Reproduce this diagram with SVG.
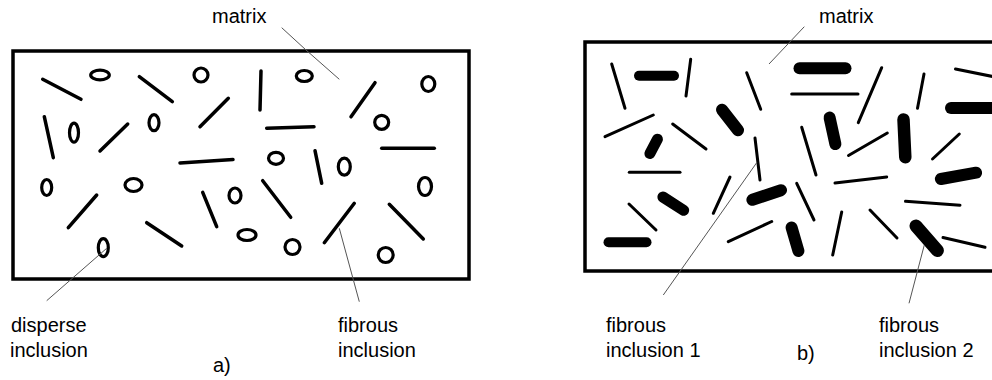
<svg xmlns="http://www.w3.org/2000/svg" width="992" height="380" viewBox="0 0 992 380">
<style>
.frame{fill:none;stroke:#000;stroke-width:3.5}
.f{fill:none;stroke:#000;stroke-width:3.5;stroke-linecap:round}
.d{fill:none;stroke:#000;stroke-width:3.2}
.t{fill:none;stroke:#000;stroke-width:3;stroke-linecap:round}
.k{fill:none;stroke:#000;stroke-linecap:round}
.lead{fill:none;stroke:#555;stroke-width:1}
text{font-family:"Liberation Sans",Arial,sans-serif;font-size:20px;fill:#000}
</style>
<rect width="992" height="380" fill="#fff"/>
<g id="panel-a">
<rect class="frame" x="13" y="51" width="456" height="228"/>
<g id="fibers-a">
<line class="f" x1="42.7" y1="79.3" x2="81" y2="99.3"/>
<line class="f" x1="139.3" y1="76.7" x2="172.3" y2="101.7"/>
<line class="f" x1="228.3" y1="98.3" x2="200" y2="126.7"/>
<line class="f" x1="44.3" y1="116.7" x2="53.3" y2="157.7"/>
<line class="f" x1="127.7" y1="124" x2="100" y2="151"/>
<line class="f" x1="180" y1="163" x2="233" y2="159.5"/>
<line class="f" x1="261" y1="71" x2="260" y2="110"/>
<line class="f" x1="375" y1="82.7" x2="351" y2="116.7"/>
<line class="f" x1="266.7" y1="128.3" x2="314" y2="126.7"/>
<line class="f" x1="381.7" y1="148.3" x2="434.3" y2="148.3"/>
<line class="f" x1="315" y1="150.7" x2="321.7" y2="183.3"/>
<line class="f" x1="96.7" y1="195" x2="68.3" y2="227.7"/>
<line class="f" x1="202.7" y1="192.3" x2="216.7" y2="226.7"/>
<line class="f" x1="146.7" y1="222.7" x2="181.7" y2="246"/>
<line class="f" x1="262.7" y1="180.7" x2="290.7" y2="217.3"/>
<line class="f" x1="354.3" y1="203.3" x2="324.3" y2="242.7"/>
<line class="f" x1="389.3" y1="204.3" x2="423.3" y2="239"/>
</g>
<g id="particles-a">
<ellipse class="d" cx="100" cy="75" rx="9.3" ry="4.8"/>
<ellipse class="d" cx="201" cy="75" rx="7" ry="7"/>
<ellipse class="d" cx="74" cy="132.7" rx="4.5" ry="9.5"/>
<ellipse class="d" cx="154" cy="122.7" rx="5" ry="8"/>
<ellipse class="d" cx="46.7" cy="187.5" rx="5" ry="8"/>
<ellipse class="d" cx="133.5" cy="185" rx="8.5" ry="6.5"/>
<ellipse class="d" cx="304.3" cy="76" rx="8" ry="5.5"/>
<ellipse class="d" cx="428.3" cy="84" rx="6.5" ry="7.5"/>
<ellipse class="d" cx="381.7" cy="122.3" rx="7" ry="7"/>
<ellipse class="d" cx="276" cy="158.3" rx="7.5" ry="6"/>
<ellipse class="d" cx="344.3" cy="166.7" rx="6" ry="8.5"/>
<ellipse class="d" cx="425" cy="186.5" rx="6.5" ry="9"/>
<ellipse class="d" cx="235" cy="195.5" rx="6" ry="7.5"/>
<ellipse class="d" cx="103.3" cy="247.7" rx="5" ry="9"/>
<ellipse class="d" cx="247" cy="235" rx="9" ry="5.5"/>
<ellipse class="d" cx="292.5" cy="247" rx="7.5" ry="7.5"/>
<ellipse class="d" cx="385.7" cy="255" rx="7.5" ry="7.5"/>
</g>
</g>
<g id="panel-b">
<rect class="frame" x="585" y="42" width="420" height="229"/>
<g id="thin-fibers-b">
<line class="t" x1="611.7" y1="64" x2="625" y2="108.3"/>
<line class="t" x1="690.7" y1="59.3" x2="686" y2="96"/>
<line class="t" x1="605" y1="136.7" x2="653.3" y2="115"/>
<line class="t" x1="672.7" y1="124" x2="706" y2="149"/>
<line class="t" x1="629.3" y1="172.3" x2="680" y2="172.3"/>
<line class="t" x1="629" y1="204" x2="656" y2="230"/>
<line class="t" x1="746.7" y1="72.7" x2="760.7" y2="109.3"/>
<line class="t" x1="755" y1="138" x2="760" y2="180"/>
<line class="t" x1="730" y1="177" x2="713.3" y2="213.3"/>
<line class="t" x1="796.7" y1="183.3" x2="814" y2="220"/>
<line class="t" x1="728.3" y1="241.7" x2="771.7" y2="221.5"/>
<line class="t" x1="841.7" y1="212" x2="832.7" y2="255"/>
<line class="t" x1="801.7" y1="127.3" x2="816" y2="175"/>
<line class="t" x1="791.7" y1="94" x2="858" y2="94"/>
<line class="t" x1="881.7" y1="67.7" x2="858.3" y2="122.7"/>
<line class="t" x1="924" y1="74" x2="917.5" y2="108.3"/>
<line class="t" x1="955.5" y1="69" x2="1000" y2="78"/>
<line class="t" x1="887.3" y1="133" x2="848.5" y2="155.5"/>
<line class="t" x1="959.3" y1="134" x2="932.5" y2="159"/>
<line class="t" x1="835" y1="183" x2="886.7" y2="177"/>
<line class="t" x1="905.5" y1="201.3" x2="960" y2="205.2"/>
<line class="t" x1="870" y1="210" x2="897" y2="238"/>
<line class="t" x1="943" y1="237.5" x2="985" y2="247.3"/>
</g>
<g id="thick-fibers-b">
<line class="k" stroke-width="10" x1="639" y1="75.7" x2="674" y2="75.7"/>
<line class="k" stroke-width="12" x1="722" y1="109.7" x2="738" y2="130.3"/>
<line class="k" stroke-width="11" x1="657.4" y1="139.2" x2="649.9" y2="153.5"/>
<line class="k" stroke-width="11" x1="662.9" y1="197" x2="683.7" y2="210.3"/>
<line class="k" stroke-width="10" x1="608.5" y1="242.3" x2="646.5" y2="242.3"/>
<line class="k" stroke-width="12" x1="752.4" y1="199.8" x2="781" y2="190.2"/>
<line class="k" stroke-width="12" x1="791.6" y1="227.5" x2="798.4" y2="250.9"/>
<line class="k" stroke-width="12" x1="829.6" y1="117.6" x2="835.4" y2="144.1"/>
<line class="k" stroke-width="12" x1="799.5" y1="68.3" x2="845.5" y2="68.3"/>
<line class="k" stroke-width="12.5" x1="903.5" y1="119.5" x2="905.3" y2="157.2"/>
<line class="k" stroke-width="12" x1="951" y1="108" x2="1005" y2="108"/>
<line class="k" stroke-width="12" x1="940.9" y1="179" x2="976.1" y2="172.7"/>
<line class="k" stroke-width="13" x1="916" y1="225.9" x2="937.4" y2="250.6"/>
</g>
</g>
<g id="connectors">
<polyline class="lead" points="281.7,27.7 306,50 339.3,79.3"/>
<line class="lead" x1="46.7" y1="300.7" x2="106.7" y2="248.3"/>
<line class="lead" x1="359.3" y1="301.7" x2="339.3" y2="228.3"/>
<line class="lead" x1="804.3" y1="26.7" x2="769" y2="64"/>
<line class="lead" x1="663.3" y1="295" x2="756.7" y2="162.7"/>
<line class="lead" x1="909" y1="303.3" x2="924.3" y2="245"/>
</g>
<g id="label-matrix-a"><text x="212" y="23">matrix</text></g>
<g id="label-disperse"><text x="11" y="332">disperse</text><text x="10" y="357">inclusion</text></g>
<g id="label-fibrous-a"><text x="338" y="332">fibrous</text><text x="338" y="357">inclusion</text></g>
<g id="label-a"><text x="213" y="372">a)</text></g>
<g id="label-matrix-b"><text x="819" y="23">matrix</text></g>
<g id="label-fibrous-1"><text x="606" y="332">fibrous</text><text x="606" y="357">inclusion 1</text></g>
<g id="label-b"><text x="797" y="360">b)</text></g>
<g id="label-fibrous-2"><text x="879" y="332">fibrous</text><text x="879" y="357">inclusion 2</text></g>
</svg>
